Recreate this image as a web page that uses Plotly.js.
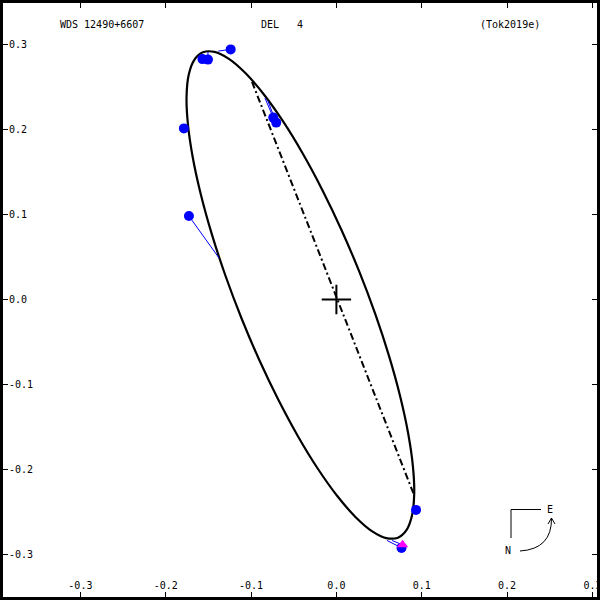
<!DOCTYPE html>
<html>
<head>
<meta charset="utf-8">
<script src="https://cdn.plot.ly/plotly-3.0.1.min.js"></script>
<style>html,body{margin:0;padding:0;background:#fff;}#chart{width:600px;height:600px;}</style>
</head>
<body>
<div id="chart"></div>
<script>
// Apparent orbit, arcsec
var orbitX = [0.07205,0.08228,0.08873,0.09121,0.08961,0.08403,0.07461,0.06163,0.04551,0.02672,0.00583,-0.01651,-0.03963,-0.06283,-0.08541,-0.10667,-0.12597,-0.14272,-0.15643,-0.16666,-0.17311,-0.17559,-0.17399,-0.16841,-0.15899,-0.14601,-0.12989,-0.11110,-0.09021,-0.06787,-0.04475,-0.02155,0.00103,0.02229,0.04159,0.05834,0.07205];
var orbitY = [-0.27970,-0.27057,-0.25306,-0.22771,-0.19527,-0.15674,-0.11329,-0.06623,-0.01700,0.03291,0.08198,0.12871,0.17171,0.20964,0.24135,0.26591,0.28254,0.29075,0.29028,0.28115,0.26364,0.23829,0.20585,0.16732,0.12387,0.07681,0.02758,-0.02233,-0.07140,-0.11813,-0.16113,-0.19906,-0.23077,-0.25533,-0.27196,-0.28017,-0.27970];
// Line of nodes
var nodeX = [-0.0989, 0.0902];
var nodeY = [0.2556, -0.2275];
// Observations (blue) and their predicted positions on the orbit
var obsX = [-0.1239,-0.1570,-0.1505,-0.1787,-0.1728,-0.0740,-0.0705,0.0933,0.0763];
var obsY = [0.2937,0.2823,0.2817,0.2009,0.0980,0.2136,0.2077,-0.2471,-0.2917];
var calcX = [-0.1385,-0.1610,-0.1505,-0.1757,-0.1373,-0.0837,-0.0802,0.0904,0.0593];
var calcY = [0.2917,0.2855,0.2905,0.2048,0.0484,0.2365,0.2330,-0.2435,-0.2830];
// Special observation (magenta)
var specX = [0.0775];
var specY = [-0.2881];
var specCalcX = [0.0652];
var specCalcY = [-0.2830];
// Primary
var primX = [0.0];
var primY = [0.0];
// Axes
var tickVals = [-0.3,-0.2,-0.1,0.0,0.1,0.2,0.3];
var tickText = ["-0.3","-0.2","-0.1","0.0","0.1","0.2","0.3"];
var titleLeft = "WDS 12490+6607";
var titleMid = "DEL\u00a0\u00a0\u00a04";
var titleRight = "(Tok2019e)";

function segs(ax, ay, bx, by) {
  var x = [], y = [];
  for (var i = 0; i < ax.length; i++) { x.push(ax[i], bx[i], null); y.push(ay[i], by[i], null); }
  return {x: x, y: y};
}
var oc = segs(obsX, obsY, calcX, calcY);
var oc2 = segs(specX, specY, specCalcX, specCalcY);

var traces = [
  {x: orbitX, y: orbitY, mode: 'lines', line: {color: '#000', width: 2.2, shape: 'spline', smoothing: 1}, hoverinfo: 'skip'},
  {x: nodeX, y: nodeY, mode: 'lines', line: {color: '#000', width: 2, dash: '7px,3px,2px,3px'}},
  {x: oc.x, y: oc.y, mode: 'lines', line: {color: '#0000ff', width: 1}},
  {x: oc2.x, y: oc2.y, mode: 'lines', line: {color: '#0000ff', width: 1}},
  {x: obsX, y: obsY, mode: 'markers', marker: {color: '#0000ff', size: 10, symbol: 'circle'}},
  {x: specX, y: specY, mode: 'markers', marker: {color: '#ff00ff', size: 10, symbol: 'triangle-up'}},
  {x: primX, y: primY, mode: 'markers', marker: {symbol: 'cross-thin-open', size: 21, color: '#000', line: {color: '#000', width: 2}}}
];

function P(px) { return px / 600; }
function Q(py) { return 1 - py / 600; }
var font = {family: 'DejaVu Sans Mono, monospace', size: 10, color: '#000'};

var axisCommon = {tickvals: tickVals, ticktext: tickText, ticks: 'inside', ticklen: 8, tickwidth: 1, tickcolor: '#000',
  mirror: 'ticks', showline: true, linecolor: '#000', showgrid: false, zeroline: false,
  ticklabelposition: 'inside', ticklabeloverflow: 'allow', tickfont: font};

var layout = {
  width: 600, height: 600,
  margin: {l: 0, r: 0, t: 0, b: 0, pad: 0},
  paper_bgcolor: '#fff', plot_bgcolor: '#fff',
  showlegend: false,
  font: font,
  xaxis: Object.assign({range: [-0.3942, 0.3089]}, axisCommon),
  yaxis: Object.assign({range: [-0.3529, 0.3517]}, axisCommon),
  shapes: [
    {type: 'rect', xref: 'paper', yref: 'paper', x0: 0, x1: 1, y0: 0, y1: 1, line: {color: '#000', width: 6}},
    {type: 'line', xref: 'paper', yref: 'paper', x0: P(511), y0: Q(509.5), x1: P(541), y1: Q(509.5), line: {color: '#000', width: 1}},
    {type: 'line', xref: 'paper', yref: 'paper', x0: P(511), y0: Q(509.5), x1: P(511), y1: Q(538), line: {color: '#000', width: 1}},
    {type: 'path', xref: 'paper', yref: 'paper', path: 'M ' + P(520) + ' ' + Q(551) + ' Q ' + P(552) + ' ' + Q(549) + ' ' + P(551.5) + ' ' + Q(518), line: {color: '#000', width: 1}},
    {type: 'path', xref: 'paper', yref: 'paper', path: 'M ' + P(548) + ' ' + Q(524) + ' L ' + P(551.5) + ' ' + Q(518) + ' L ' + P(555) + ' ' + Q(524), line: {color: '#000', width: 1}}
  ],
  annotations: [
    {xref: 'paper', yref: 'paper', x: P(102), y: Q(25), text: titleLeft, showarrow: false, font: font, xanchor: 'center', yanchor: 'middle'},
    {xref: 'paper', yref: 'paper', x: P(282), y: Q(25), text: titleMid, showarrow: false, font: font, xanchor: 'center', yanchor: 'middle'},
    {xref: 'paper', yref: 'paper', x: P(510), y: Q(25), text: titleRight, showarrow: false, font: font, xanchor: 'center', yanchor: 'middle'},
    {xref: 'paper', yref: 'paper', x: P(550), y: Q(509), text: 'E', showarrow: false, font: font, xanchor: 'center', yanchor: 'middle'},
    {xref: 'paper', yref: 'paper', x: P(508), y: Q(550), text: 'N', showarrow: false, font: font, xanchor: 'center', yanchor: 'middle'}
  ]
};
Plotly.newPlot('chart', traces, layout, {displayModeBar: false, staticPlot: true});
</script>
</body>
</html>
